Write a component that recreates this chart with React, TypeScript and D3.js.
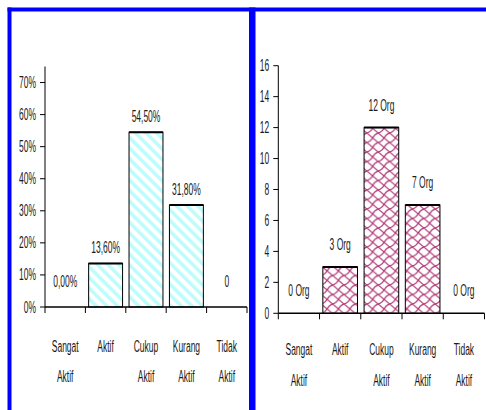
import React from "react";
import * as d3 from "d3";

const categories: string[][] = [
  ["Sangat", "Aktif"],
  ["Aktif"],
  ["Cukup", "Aktif"],
  ["Kurang", "Aktif"],
  ["Tidak", "Aktif"],
];
const pctValues = [0, 0.136, 0.545, 0.318, 0];
const pctLabels = ["0,00%", "13,60%", "54,50%", "31,80%", "0"];
const pctTicks = [0, 0.1, 0.2, 0.3, 0.4, 0.5, 0.6, 0.7];
const countValues = [0, 3, 12, 7, 0];
const countLabels = ["0 Org", "3 Org", "12 Org", "7 Org", "0 Org"];
const countTicks = [0, 2, 4, 6, 8, 10, 12, 14, 16];

const FONT = "'Liberation Sans', Arial, sans-serif";
const SX = 0.53;

function T({ x, y, anchor = "middle", children, size = 16 }: any) {
  return (
    <text
      transform={`translate(${x},${y}) scale(${SX},1)`}
      textAnchor={anchor}
      fontFamily={FONT}
      fontSize={size}
      fill="#1a1a1a"
    >
      {children}
    </text>
  );
}

function Chart({
  values,
  labels,
  ticks,
  yMax,
  x0,
  x1,
  yTop,
  yBottom,
  fill,
  tickFmt,
  labelOffset,
  zeroOffset,
  cat1,
  cat2,
}: any) {
  const keys = categories.map((c) => c.join(" "));
  const x = d3.scaleBand<string>().domain(keys).range([x0, x1]).padding(0);
  const y = d3.scaleLinear().domain([0, yMax]).range([yBottom, yTop]);
  const bw = x.bandwidth() * 0.84;
  const bounds = keys.map((k) => x(k)!).concat([x1]);
  return (
    <g>
      <line x1={x0} x2={x0} y1={yTop} y2={yBottom} stroke="#000" strokeWidth={1} />
      {ticks.map((t: number) => (
        <g key={t}>
          <line x1={x0 - 5} x2={x0} y1={y(t)} y2={y(t)} stroke="#000" />
          <T x={x0 - 9} y={y(t) + 5.5} anchor="end">
            {tickFmt(t)}
          </T>
        </g>
      ))}
      {values.map((v: number, i: number) => {
        const k = keys[i];
        const cx = x(k)! + x.bandwidth() / 2;
        return (
          <g key={k}>
            {v > 0 && (
              <rect
                x={cx - bw / 2}
                y={y(v)}
                width={bw}
                height={y(0) - y(v)}
                fill={fill}
                stroke="#000"
                strokeWidth={1}
              />
            )}
            {v > 0 && (
              <line x1={cx - bw / 2} x2={cx + bw / 2} y1={y(v)} y2={y(v)} stroke="#000" strokeWidth={2} />
            )}
            <T x={cx} y={v > 0 ? y(v) - labelOffset : y(0) - zeroOffset}>
              {labels[i]}
            </T>
            <T x={cx} y={cat1}>
              {categories[i][0]}
            </T>
            {categories[i][1] && (
              <T x={cx} y={cat2}>
                {categories[i][1]}
              </T>
            )}
          </g>
        );
      })}
      <line x1={x0} x2={x1} y1={yBottom} y2={yBottom} stroke="#000" strokeWidth={1.5} />
      {bounds.map((b, i) => (
        <line key={i} x1={b} x2={b} y1={yBottom} y2={yBottom + 6} stroke="#000" />
      ))}
    </g>
  );
}

export default function App() {
  return (
    <svg
      width={486}
      height={410}
      style={{ position: "absolute", left: 0, top: 0, background: "#fff" }}
    >
      <defs>
        <pattern
          id="stripes"
          patternUnits="userSpaceOnUse"
          width={7.5}
          height={7.5}
          patternTransform="rotate(-45)"
        >
          <rect width={7.5} height={7.5} fill="#fff" />
          <rect width={3.5} height={7.5} fill="#bdfcfc" />
        </pattern>
        <pattern id="shingle" patternUnits="userSpaceOnUse" width={11.4} height={9.5} x={2} y={0}>
          <rect width={11.4} height={9.5} fill="#fff" />
          <path
            d="M0,0 L11.4,9.5 M11.4,0 C5,1.5 7,8 0,9.5"
            fill="none"
            stroke="#b03a78"
            strokeWidth={1.2}
          />
        </pattern>
      </defs>
      <rect width={486} height={410} fill="#fff" />

      <Chart
        values={pctValues}
        labels={pctLabels}
        ticks={pctTicks}
        yMax={0.75}
        x0={45}
        x1={247}
        yTop={66.5}
        yBottom={307}
        fill="url(#stripes)"
        tickFmt={(t: number) => `${Math.round(t * 100)}%`}
        labelOffset={10}
        zeroOffset={20}
        cat1={352}
        cat2={382}
      />
      <Chart
        values={countValues}
        labels={countLabels}
        ticks={countTicks}
        yMax={16}
        x0={278.3}
        x1={484.5}
        yTop={65.7}
        yBottom={313.3}
        fill="url(#shingle)"
        tickFmt={(t: number) => `${t}`}
        labelOffset={17}
        zeroOffset={17}
        cat1={354.8}
        cat2={385.5}
      />

      <rect x={7.5} y={7.5} width={478.5} height={4} fill="#0000ff" />
      <rect x={7.5} y={7.5} width={4} height={402.5} fill="#0000ff" />
      <rect x={249} y={7.5} width={6.5} height={402.5} fill="#0000ff" />
    </svg>
  );
}
